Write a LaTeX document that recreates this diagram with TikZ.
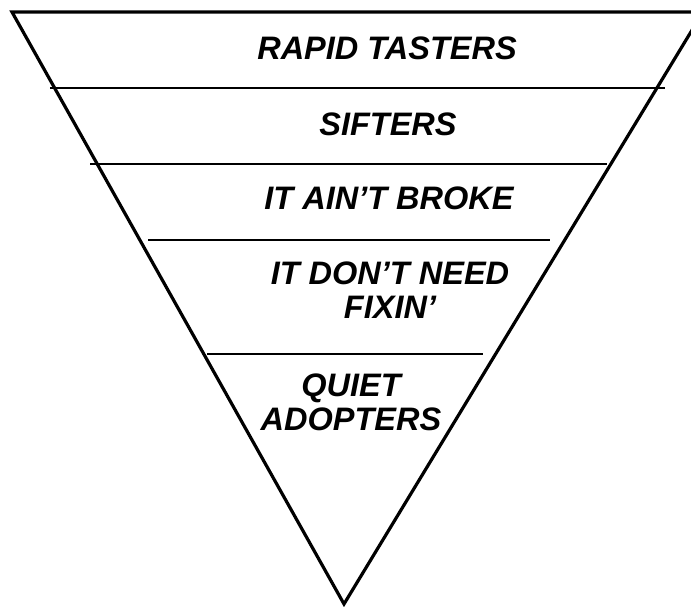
\documentclass[tikz,border=0pt]{standalone}
\usepackage{fontspec}
\setmainfont{Liberation Sans}
\usetikzlibrary{positioning}

\tikzset{
  layer/.style={font=\fontsize{32.5}{34}\selectfont\bfseries\itshape, align=center, inner sep=0pt},
  rim/.style={line width=3.2pt, line join=miter},
  cut/.style={line width=2.6pt}
}

\begin{document}
\begin{tikzpicture}[x=1pt,y=-1pt]
        \useasboundingbox (0,0) rectangle (691,606);
        \clip (0,0) rectangle (691,606);

        \coordinate (TL) at (12,12);
        \coordinate (TR) at (703,12);
        \coordinate (V) at (344,604);
        \draw[rim] (TL)--(TR)--(V)--cycle;

        \draw[cut] (50,88)--(665,88);
        \draw[cut] (90,164)--(607,164);
        \draw[cut] (148,240)--(550,240);
        \draw[cut] (207,354)--(483,354);

        \node[layer] (rapid) at (387,48) {RAPID TASTERS};
        \node[layer] (sift) at (388,124) {SIFTERS};
        \node[layer] (broke) at (389,198) {IT AIN’T BROKE};
        \node[layer] (fix) at (390,290) {IT DON’T NEED\\FIXIN’};
        \node[layer] (quiet) at (351,402) {QUIET\\ADOPTERS};
    \end{tikzpicture}
\end{document}
